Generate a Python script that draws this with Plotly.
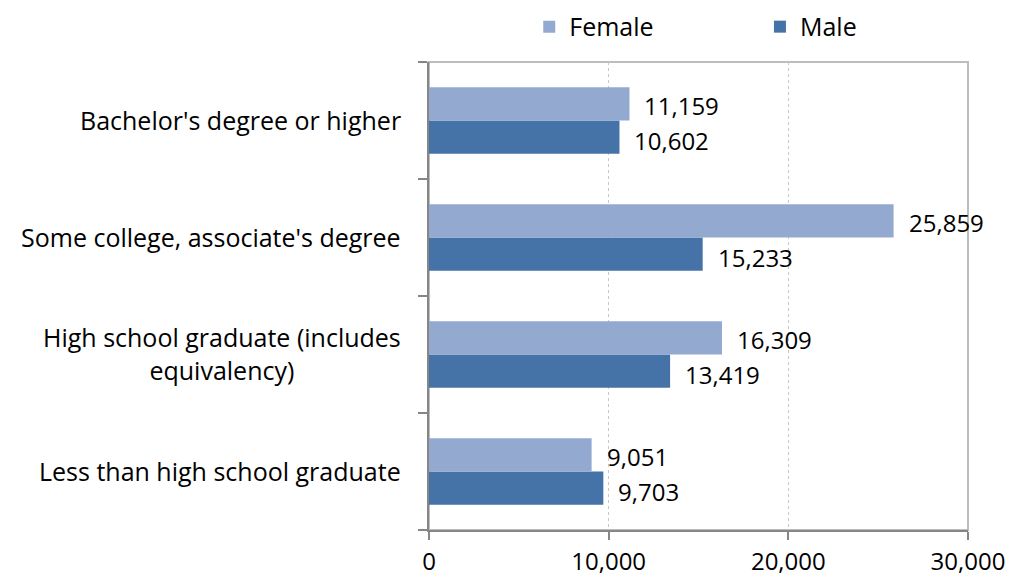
import plotly.graph_objects as go

# Education categories, listed bottom to top
categories = [
    "Less than high school graduate",
    "High school graduate (includes equivalency)",
    "Some college, associate's degree",
    "Bachelor's degree or higher",
]
category_labels = [
    "Less than high school graduate",
    "High school graduate (includes<br>equivalency)",
    "Some college, associate's degree",
    "Bachelor's degree or higher",
]
female = [9051, 16309, 25859, 11159]
male = [9703, 13419, 15233, 10602]
x_ticks = [0, 10000, 20000, 30000]
x_tick_text = ["0", "10,000", "20,000", "30,000"]

FEMALE_COLOR = "#94A9D0"
MALE_COLOR = "#4573A7"
FONT = "Open Sans"
TEXT_COLOR = "#000000"
FS = 25

fig = go.Figure()
# Male first so that Female sits above it within each group
fig.add_trace(go.Bar(
    y=categories, x=male, orientation="h", name="Male",
    marker=dict(color=MALE_COLOR, line=dict(width=0)), legend="legend2",
))
fig.add_trace(go.Bar(
    y=categories, x=female, orientation="h", name="Female",
    marker=dict(color=FEMALE_COLOR, line=dict(width=0)), legend="legend",
))

annotations = []
for cat, fv, mv in zip(categories, female, male):
    annotations.append(dict(
        x=fv, y=cat, xref="x", yref="y", text=f"{fv:,}", showarrow=False,
        xanchor="left", yanchor="middle", xshift=13, yshift=15,
        font=dict(family=FONT, size=FS - 1, color=TEXT_COLOR),
    ))
    annotations.append(dict(
        x=mv, y=cat, xref="x", yref="y", text=f"{mv:,}", showarrow=False,
        xanchor="left", yanchor="middle", xshift=13, yshift=-20,
        font=dict(family=FONT, size=FS - 1, color=TEXT_COLOR),
    ))
for cat, label in zip(categories, category_labels):
    annotations.append(dict(
        x=0, y=cat, xref="paper", yref="y", text=label, showarrow=False,
        xanchor="right", yanchor="middle", align="center", xshift=-26,
        yshift=1,
        font=dict(family=FONT, size=FS, color=TEXT_COLOR),
    ))

legend_style = dict(
    orientation="h", yanchor="middle", y=1.075, xanchor="left",
    font=dict(family=FONT, size=FS, color=TEXT_COLOR),
    bgcolor="rgba(0,0,0,0)", borderwidth=0,
)

fig.update_layout(
    width=1011, height=580,
    margin=dict(l=429, r=43, t=62, b=50, pad=0, autoexpand=False),
    paper_bgcolor="white", plot_bgcolor="white",
    barmode="group", bargap=0.43, bargroupgap=0,
    font=dict(family=FONT, size=FS, color=TEXT_COLOR),
    legend=dict(legend_style, x=0.186),
    legend2=dict(legend_style, x=0.614),
    xaxis=dict(
        range=[0, 30000], tickvals=x_ticks, ticktext=x_tick_text,
        showgrid=True, gridcolor="#C8C8C8", griddash="dot", gridwidth=1,
        zeroline=False, showline=True, linecolor="#868686", linewidth=2,
        ticks="outside", ticklen=8, tickcolor="#868686", tickwidth=2,
        ticklabelstandoff=1,
        tickfont=dict(family=FONT, size=FS - 1, color=TEXT_COLOR),
        fixedrange=True,
    ),
    yaxis=dict(
        categoryorder="array", categoryarray=categories,
        showticklabels=False, showgrid=False, zeroline=False,
        showline=True, linecolor="#868686", linewidth=2,
        ticks="outside", tickson="boundaries", ticklen=9,
        tickcolor="#868686", tickwidth=2, fixedrange=True,
    ),
    annotations=annotations,
    shapes=[dict(
        type="rect", xref="paper", yref="paper", x0=0, x1=1, y0=0, y1=1,
        line=dict(color="#BDBDBD", width=2), layer="below",
    )],
    showlegend=True,
)

fig.write_html("out.html")
